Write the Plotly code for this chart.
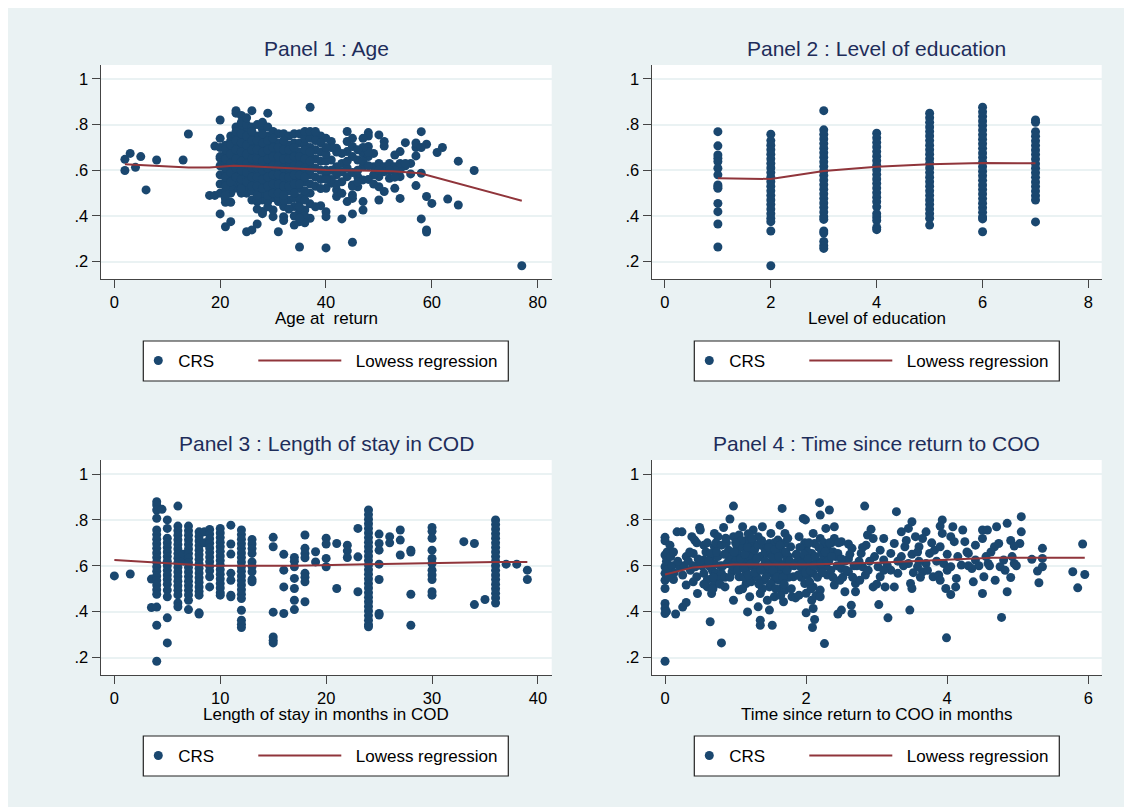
import plotly.graph_objects as go

# The page body adds an 8px margin, so the figure is 8px smaller and every
# pixel position below (measured on the 1132x807 window) is shifted by OFF.
OFF = 8
W, H = 1132 - OFF, 807 - OFF
BG = "#EAF2F3"
NAVY = "#1a476f"
MAROON = "#90353b"
TITLE_C = "#1e2d5a"
AXIS_C = "#444444"
FONT = "Liberation Sans, Arial, sans-serif"

panel_titles = ["Panel 1 : Age", "Panel 2 : Level of education",
                "Panel 3 : Length of stay in COD", "Panel 4 : Time since return to COO"]
x_titles = ["Age at  return", "Level of education",
            "Length of stay in months in COD", "Time since return to COO in months"]
x_tick_vals = [[0, 20, 40, 60, 80], [0, 2, 4, 6, 8], [0, 10, 20, 30, 40], [0, 2, 4, 6]]
y_tick_vals = [0.2, 0.4, 0.6, 0.8, 1.0]
y_tick_text = [".2", ".4", ".6", ".8", "1"]

# ---------------- Panel 1: age at return vs CRS ----------------
p1_points = [
    (2, .648), (2, .599), (3, .674), (4, .613), (5, .66), (6, .514), (8, .645), (13, .645), (14, .759),
    (18, .49), (19, .49), (19, .706), (20, .82), (20, .409), (20, .653), (21, .353), (22, .375),
    (25, .331), (26, .339), (27, .365), (28, .41), (28, .42), (31, .331), (35, .264), (40, .26), (45, .285),
    (37, .876), (23, .861), (23, .85), (26, .861), (29, .85), (24, .84),
    (44, .77), (48, .765), (50, .755), (58, .769), (59, .714), (62, .70), (61, .678), (65, .64), (68, .599),
    (63, .474), (65, .448), (60, .455), (59, .485), (58, .387), (59, .339), (59, .33), (77, .182),
    (57, .663), (57, .533), (56, .584), (55, .721), (54, .682), (53, .667), (54, .572), (54, .477), (53, .521),
    (51, .726), (51, .706), (50, .572), (50, .47), (50, .528), (51, .507), (47, .426), (47, .463),
    (45, .409), (43, .387), (40, .397), (40, .419), (37, .39), (37, .453), (35, .375), (34, .36), (32, .397),
    (30, .397), (30, .426), (39, .445), (58, .587), (57, .70), (57, .72), (58, .70), (56, .63), (55, .62), (54, .6),
    (41, .726), (42, .696), (44, .726), (44, .682), (45, .704), (43, .674), (41, .645), (42, .616), (43, .594),
    (44, .572), (45, .536), (42, .514), (41, .543), (40, .521), (42, .485), (43, .499), (46, .572), (46, .645),
    (47, .616), (47, .674), (48, .704), (48, .66), (49, .674), (49, .616), (47, .558), (46, .528), (45, .492),
    (45, .477), (44, .463), (50, .63), (51, .616), (52, .63), (53, .616), (54, .63), (55, .63), (53, .6),
    (52, .565), (51, .594), (41, .60), (42, .58), (43, .63), (44, .61), (45, .59), (46, .6), (47, .64),
    (48, .62), (49, .58), (48, .68), (47, .70), (46, .69), (45, .66), (44, .64), (43, .55), (42, .54),
    (41, .56), (40, .58), (39, .6), (45, .53), (46, .55), (48, .56), (49, .54), (50, .6), (52, .6), (53, .57),
    (48, .75), (47, .74), (45, .74), (42, .68), (41, .7), (40, .74), (39, .75), (38, .76),
    (37, .5), (36, .5), (35, .47), (34, .441), (35, .419), (36, .426), (33, .47), (32, .441), (31, .463),
    (29, .463), (28, .47), (27, .463), (26, .47), (25, .5), (24, .5), (23, .521), (22, .5), (21, .477),
    (20, .5), (33, .43), (34, .40), (36, .40), (38, .44), (29, .44), (27, .43), (22, .46), (21, .46),
    (32, .38), (36, .37), (35, .39),
    (20, .54), (20, .58), (20, .62), (20, .66), (20, .70), (20, .74),
    (21, .51), (21, .55), (21, .59), (21, .63), (21, .67), (21, .71),
    (22, .53), (22, .57), (22, .61), (22, .65), (22, .69), (22, .73), (22, .75),
    (23, .55), (23, .59), (23, .63), (23, .67), (23, .71), (23, .75), (23, .79),
    (24, .54), (24, .58), (24, .62), (24, .66), (24, .70), (24, .74), (24, .78), (24, .81),
    (25, .53), (25, .57), (25, .61), (25, .65), (25, .69), (25, .73), (25, .77), (25, .80), (25, .83),
    (26, .51), (26, .55), (26, .59), (26, .63), (26, .67), (26, .71), (26, .75), (26, .79),
    (27, .47), (27, .51), (27, .55), (27, .59), (27, .63), (27, .67), (27, .71), (27, .75), (27, .80),
    (28, .50), (28, .54), (28, .58), (28, .62), (28, .66), (28, .70), (28, .74), (28, .78), (28, .81),
    (29, .47), (29, .51), (29, .55), (29, .59), (29, .63), (29, .67), (29, .71), (29, .75), (29, .79),
    (30, .48), (30, .52), (30, .56), (30, .60), (30, .64), (30, .68), (30, .72), (30, .77),
    (31, .48), (31, .52), (31, .56), (31, .60), (31, .64), (31, .68), (31, .72), (31, .76),
    (32, .47), (32, .51), (32, .55), (32, .59), (32, .63), (32, .67), (32, .71), (32, .76),
    (33, .51), (33, .55), (33, .59), (33, .63), (33, .67), (33, .71), (33, .75),
    (34, .48), (34, .52), (34, .56), (34, .60), (34, .64), (34, .68), (34, .72), (34, .76),
    (35, .44), (35, .48), (35, .52), (35, .56), (35, .60), (35, .64), (35, .68), (35, .72), (35, .76),
    (36, .47), (36, .51), (36, .55), (36, .59), (36, .63), (36, .67), (36, .71), (36, .74), (36, .77),
    (37, .54), (37, .58), (37, .62), (37, .66), (37, .70), (37, .74), (37, .77),
    (38, .53), (38, .57), (38, .61), (38, .65), (38, .69), (38, .73), (38, .77),
    (39, .52), (39, .56), (39, .64), (39, .68), (39, .72),
    (40, .56), (40, .60), (40, .64), (40, .67), (40, .70),
    (21, .49), (21, .53), (21, .57), (21, .61), (21, .65), (21, .69),
    (22, .55), (22, .59), (22, .63), (22, .67), (22, .71),
    (23, .57), (23, .61), (23, .65), (23, .69), (23, .73), (23, .77),
    (24, .52), (24, .56), (24, .60), (24, .64), (24, .68), (24, .72), (24, .76),
    (25, .55), (25, .59), (25, .63), (25, .67), (25, .71), (25, .75),
    (26, .53), (26, .57), (26, .61), (26, .65), (26, .69), (26, .73), (26, .77),
    (27, .49), (27, .53), (27, .57), (27, .61), (27, .65), (27, .69), (27, .73),
    (28, .52), (28, .56), (28, .60), (28, .64), (28, .68), (28, .72), (28, .76),
    (29, .49), (29, .53), (29, .57), (29, .61), (29, .65), (29, .69), (29, .73),
    (30, .50), (30, .54), (30, .58), (30, .62), (30, .66), (30, .70), (30, .74),
    (31, .50), (31, .54), (31, .58), (31, .62), (31, .66), (31, .70),
    (32, .49), (32, .53), (32, .57), (32, .61), (32, .65), (32, .69), (32, .73),
    (33, .53), (33, .57), (33, .61), (33, .65), (33, .69),
    (34, .50), (34, .54), (34, .58), (34, .62), (34, .66), (34, .70),
    (35, .54), (35, .58), (35, .62), (35, .66),
    (36, .57), (36, .61), (36, .65), (36, .69),
    (37, .60), (37, .64), (37, .68),
]
p1_lowess_x = [2, 8, 14, 18, 22.5, 27.5, 34, 40, 46.4, 52.7, 57.8, 77]
p1_lowess_y = [.626, .62, .612, .612, .620, .616, .609, .601, .599, .596, .587, .467]

# ---------------- Panel 2: level of education vs CRS ----------------
edu1_crs = [.769, .707, .667, .653, .638, .609, .58, .536, .528, .521, .455, .419, .365, .264]
edu2_crs = [.758, .73, .71, .69, .67, .65, .63, .61, .59, .57, .55, .53, .51, .49, .47, .45, .43, .41,
            .39, .375, .334, .182]
edu3_crs = [.861, .777, .757, .737, .717, .697, .677, .657, .637, .617, .597, .577, .557, .537, .517,
            .497, .477, .457, .437, .417, .397, .385, .334, .325, .288, .27, .258]
edu4_crs = [.762, .742, .722, .702, .682, .662, .642, .622, .602, .582, .562, .542, .522, .502, .482,
            .462, .44, .41, .395, .38, .35, .34]
edu5_crs = [.85, .83, .81, .79, .77, .75, .73, .71, .69, .67, .65, .63, .61, .59, .57, .55, .53, .51,
            .49, .47, .45, .43, .41, .39, .36]
edu6_crs = [.876, .856, .836, .816, .796, .776, .756, .736, .716, .696, .676, .656, .636, .616, .596,
            .576, .556, .536, .516, .496, .476, .456, .436, .416, .396, .387, .331]
edu7_crs = [.82, .81, .769, .749, .729, .709, .689, .669, .649, .629, .609, .589, .569, .549, .529,
            .509, .489, .47, .374]
edu_levels = [1, 2, 3, 4, 5, 6, 7]
p2_lowess_y = [.565, .562, .597, .615, .626, .632, .631]

# ---------------- Panel 3: length of stay vs CRS ----------------
p3_points = [
    (0, .556), (1.5, .564), (3.5, .542), (3.5, .418),
    (4, .879), (4, .865), (4, .843), (4, .807), (4, .756), (4, .736), (4, .716), (4, .696), (4, .676),
    (4, .656), (4, .636), (4, .616), (4, .596), (4, .576), (4, .556), (4, .536), (4, .516), (4, .496),
    (4, .476), (4, .42), (4, .341), (4, .184), (4.5, .846),
    (5, .80), (5, .763), (5, .72), (5, .70), (5, .68), (5, .66), (5, .64), (5, .62), (5, .60), (5, .58),
    (5, .56), (5, .54), (5, .52), (5, .494), (5, .465), (5, .373), (5, .264),
    (6, .86), (6, .773), (6, .753), (6, .733), (6, .713), (6, .693), (6, .673), (6, .653), (6, .633),
    (6, .613), (6, .593), (6, .573), (6, .553), (6, .533), (6, .513), (6, .493), (6, .473), (6, .438), (6, .421),
    (6.5, .65), (6.5, .62),
    (7, .773), (7, .753), (7, .733), (7, .713), (7, .693), (7, .673), (7, .653), (7, .633), (7, .613),
    (7, .593), (7, .573), (7, .553), (7, .533), (7, .513), (7, .493), (7, .473), (7, .45), (7, .409),
    (8, .748), (8, .728), (8, .708), (8, .688), (8, .668), (8, .648), (8, .628), (8, .608), (8, .588),
    (8, .568), (8, .548), (8, .528), (8, .508), (8, .488), (8, .472), (8, .395), (8, .39),
    (8.5, .748), (8.5, .70),
    (9, .758), (9, .738), (9, .718), (9, .698), (9, .678), (9, .658), (9, .638), (9, .618), (9, .598),
    (9, .578), (9, .552), (9, .508),
    (10, .763), (10, .743), (10, .723), (10, .703), (10, .683), (10, .663), (10, .643), (10, .623),
    (10, .603), (10, .583), (10, .563), (10, .543), (10, .523), (10, .503), (10, .483), (10, .472),
    (11, .777), (11, .695), (11, .651), (11, .567), (11, .537), (11, .472), (11, .465),
    (12, .756), (12, .736), (12, .716), (12, .696), (12, .676), (12, .656), (12, .636), (12, .616),
    (12, .596), (12, .576), (12, .556), (12, .536), (12, .516), (12, .496), (12, .476), (12, .457),
    (12, .406), (12, .363), (12, .345), (12, .331),
    (13, .715), (13, .695), (13, .675), (13, .654), (13, .617), (13, .597), (13, .574), (13, .54), (13, .53),
    (15, .724), (15, .683), (15, .398), (15, .29), (15, .275), (15, .264),
    (16, .65), (16, .581), (16, .508), (16, .392),
    (17, .636), (17, .62), (17, .596), (17, .545), (17, .501), (17, .45), (17, .409),
    (18, .734), (18, .676), (18, .654), (18, .635), (18, .567), (18, .55), (18, .53), (18, .443),
    (19, .661), (19, .617), (20, .72), (20, .695), (20, .632), (20, .596), (21, .697), (21, .501),
    (22, .69), (22, .665), (22, .636), (23, .763), (23, .639), (23, .487),
    (24, .843), (24, .823), (24, .803), (24, .783), (24, .763), (24, .743), (24, .723), (24, .703),
    (24, .683), (24, .663), (24, .643), (24, .623), (24, .603), (24, .583), (24, .563), (24, .543),
    (24, .523), (24, .503), (24, .483), (24, .463), (24, .443), (24, .423), (24, .403), (24, .383),
    (24, .363), (24, .343), (24, .334),
    (25, .738), (25, .697), (25, .668), (25, .607), (25, .54), (25, .392), (25, .385),
    (26, .727), (26, .70), (27, .756), (27, .712), (27, .647), (28, .668), (28, .66), (28, .476), (28, .341),
    (30, .767), (30, .75), (30, .72), (30, .668), (30, .632), (30, .61), (30, .581), (30, .56), (30, .54),
    (30, .487), (30, .472),
    (33, .705), (34, .697), (34, .431), (35, .453),
    (36, .80), (36, .78), (36, .76), (36, .74), (36, .72), (36, .70), (36, .68), (36, .66), (36, .64),
    (36, .62), (36, .60), (36, .58), (36, .56), (36, .54), (36, .52), (36, .50), (36, .48), (36, .46), (36, .438),
    (37, .607), (38, .607), (39, .581), (39, .54),
]
p3_lowess_x = [0, 4, 9, 12.5, 17, 24, 30, 36, 39]
p3_lowess_y = [.625, .615, .600, .600, .600, .607, .613, .617, .617]

# ---------------- Panel 4: time since return vs CRS ----------------
p4_points = [
    (0, .724), (0, .709), (0, .647), (0, .596), (0, .567), (0, .537), (0, .501), (0, .436), (0, .414),
    (0, .392), (0, .184), (0.02, .40), (0.02, .58), (0.02, .62), (0.03, .66),
    (0.07, .69), (0.08, .64), (0.12, .54), (0.15, .39), (0.1, .60), (0.13, .57),
    (0.17, .748), (0.24, .748), (0.21, .596), (0.25, .42), (0.3, .44), (0.3, .516), (0.3, .64), (0.27, .6), (0.33, .62),
    (0.38, .727), (0.49, .767), (0.42, .712), (0.4, .654), (0.43, .596), (0.45, .552), (0.46, .479), (0.36, .58),
    (0.4, .53), (0.47, .63),
    (0.5, .756), (0.55, .69), (0.55, .625), (0.55, .567), (0.6, .508), (0.64, .356), (0.52, .60), (0.58, .66),
    (0.6, .54), (0.62, .6), (0.65, .64), (0.67, .58),
    (0.7, .741), (0.7, .683), (0.65, .654), (0.7, .61), (0.72, .567), (0.7, .523), (0.66, .479), (0.8, .264),
    (0.75, .727), (0.8, .567), (0.75, .64), (0.78, .6), (0.72, .7), (0.8, .69), (0.76, .54), (0.68, .5),
    (0.83, .767), (0.92, .804), (0.97, .86), (0.97, .727), (0.9, .668), (0.88, .61), (0.85, .508), (0.97, .45),
    (0.95, .574), (0.85, .55), (0.9, .62), (0.93, .64), (0.87, .7),
    (1.1, .77), (1.05, .734), (1.02, .683), (1.05, .64), (1.0, .596), (1.05, .552), (1.05, .494), (1.15, .71),
    (1.15, .66), (1.15, .617), (1.15, .574), (1.15, .523), (1.17, .399), (1.25, .756), (1.25, .697),
    (1.25, .654), (1.25, .596), (1.25, .552), (1.2, .465), (1.0, .62), (1.02, .66), (1.08, .6), (1.1, .68),
    (1.12, .55), (1.2, .6), (1.2, .64), (1.22, .53), (1.08, .71), (1.18, .74), (1.28, .62), (1.1, .5),
    (1.38, .77), (1.32, .727), (1.4, .683), (1.35, .64), (1.3, .596), (1.4, .537), (1.35, .479), (1.32, .421),
    (1.35, .363), (1.35, .341), (1.48, .407), (1.52, .341), (1.5, .741), (1.48, .697), (1.45, .654),
    (1.5, .61), (1.52, .567), (1.48, .508), (1.55, .465), (1.4, .6), (1.45, .57), (1.42, .66), (1.38, .5),
    (1.3, .55), (1.55, .63), (1.5, .66), (1.55, .54), (1.45, .45), (1.58, .6), (1.55, .7),
    (1.66, .85), (1.63, .777), (1.7, .741), (1.6, .712), (1.65, .668), (1.6, .625), (1.68, .581), (1.62, .537),
    (1.7, .494), (1.68, .443), (1.78, .683), (1.75, .64), (1.75, .596), (1.82, .552), (1.8, .465), (1.85, .46),
    (1.6, .57), (1.65, .5), (1.72, .62), (1.7, .7), (1.64, .47), (1.62, .6), (1.75, .55), (1.68, .65), (1.6, .67),
    (1.96, .806), (1.99, .8), (1.9, .727), (2.0, .683), (1.95, .64), (1.92, .596), (2.02, .56), (1.98, .523),
    (1.9, .472), (2.0, .395), (2.1, .414), (2.12, .366), (2.09, .331), (2.1, .741), (2.12, .697), (2.08, .654),
    (2.05, .61), (2.1, .567), (2.1, .508), (2.08, .45), (1.95, .57), (2.0, .6), (2.02, .66), (1.98, .7),
    (1.93, .55), (2.05, .53), (2.0, .48), (2.15, .62), (2.14, .47), (1.88, .62),
    (2.19, .875), (2.2, .821), (2.33, .843), (2.28, .763), (2.2, .719), (2.3, .683), (2.25, .64), (2.2, .588),
    (2.3, .56), (2.2, .494), (2.26, .261), (2.4, .77), (2.4, .719), (2.38, .661), (2.4, .516), (2.2, .465),
    (2.25, .7), (2.32, .62), (2.35, .58), (2.28, .6), (2.36, .7), (2.42, .64), (2.22, .66),
    (2.5, .705), (2.45, .654), (2.5, .588), (2.48, .537), (2.55, .487), (2.5, .407), (2.45, .39), (2.6, .695),
    (2.65, .676), (2.6, .574), (2.64, .428), (2.65, .392), (2.7, .523), (2.7, .487), (2.55, .62), (2.6, .63),
    (2.52, .55), (2.68, .6),
    (2.83, .86), (2.92, .759), (2.87, .734), (2.85, .69), (2.78, .654), (2.8, .596), (2.84, .56), (2.76, .537),
    (2.95, .508), (2.95, .719), (2.97, .64), (2.9, .62), (2.75, .62),
    (3.28, .836), (3.1, .719), (3.05, .668), (3.1, .625), (3.02, .596), (3.05, .552), (3.12, .508), (3.03, .431),
    (3.16, .373), (3.25, .697), (3.2, .654), (3.2, .581), (3.25, .508), (3.15, .6), (3.0, .52),
    (3.5, .792), (3.35, .748), (3.45, .763), (3.55, .727), (3.4, .683), (3.35, .64), (3.45, .61), (3.3, .567),
    (3.48, .523), (3.5, .501), (3.47, .407), (3.38, .6), (3.5, .65), (3.52, .57), (3.42, .71),
    (3.7, .748), (3.65, .719), (3.6, .683), (3.75, .654), (3.7, .61), (3.65, .574), (3.8, .552), (3.58, .596),
    (3.82, .668), (3.72, .58), (3.6, .62), (3.78, .7),
    (3.93, .8), (3.9, .773), (3.93, .741), (3.9, .683), (3.95, .61), (3.88, .56), (3.9, .537), (3.98, .501),
    (4.05, .475), (3.99, .286), (4.05, .727), (4.08, .77), (4.1, .705), (4.05, .596), (4.13, .545),
    (4.12, .508), (4.0, .65),
    (4.22, .756), (4.25, .705), (4.3, .654), (4.2, .603), (4.35, .588), (4.37, .53), (4.4, .625), (4.28, .66), (4.45, .6),
    (4.5, .756), (4.5, .719), (4.57, .756), (4.55, .64), (4.58, .61), (4.52, .552), (4.5, .479), (4.7, .77),
    (4.67, .683), (4.68, .537), (4.6, .6),
    (4.85, .785), (4.73, .697), (4.8, .625), (4.75, .596), (4.85, .487), (4.77, .375), (4.9, .549), (4.9, .71),
    (5.05, .814), (5.05, .748), (5.03, .697), (4.95, .61), (4.95, .686), (4.98, .6),
    (5.2, .628), (5.28, .577), (5.3, .526), (5.35, .676), (5.35, .596), (5.35, .632),
    (5.78, .574), (5.85, .504), (5.92, .695), (5.95, .562),
    (0.92, .55), (0.95, .6), (0.98, .66), (1.0, .7), (1.03, .58), (1.07, .63), (1.12, .59), (1.13, .65),
    (1.17, .68), (1.18, .56), (1.22, .61), (1.23, .72), (1.27, .57), (1.27, .67), (1.3, .63), (1.32, .69),
    (1.33, .52), (1.36, .58), (1.37, .71), (1.42, .62), (1.43, .55), (1.46, .6), (1.47, .68), (1.5, .52),
    (1.52, .64), (1.53, .58), (1.56, .67), (1.57, .5), (1.59, .55), (1.61, .64), (1.63, .69), (1.66, .6),
    (1.67, .55), (1.69, .52), (1.71, .66), (1.73, .58), (1.74, .72), (1.77, .62), (1.79, .5), (1.83, .6),
    (1.86, .65), (1.89, .56), (1.91, .68), (1.94, .61), (1.97, .65), (1.99, .57), (2.03, .63), (2.04, .7),
    (2.06, .58), (2.07, .5), (2.11, .6), (2.13, .64), (2.16, .55), (2.18, .68), (2.21, .61), (2.23, .57),
    (2.27, .66), (2.3, .62), (2.33, .7), (2.36, .64), (2.38, .55), (2.44, .6), (2.46, .7), (2.5, .63),
    (2.57, .58), (2.62, .65), (2.66, .55), (2.72, .6), (2.8, .68), (2.88, .58), (0.6, .7), (0.62, .62),
    (0.68, .55), (0.73, .66), (0.78, .52), (0.82, .6), (0.84, .65), (0.86, .72), (0.4, .6), (0.35, .66),
    (0.25, .56), (0.18, .62), (0.12, .66), (0.05, .55), (0.45, .7), (0.5, .62), (0.55, .52), (3.1, .58),
    (3.3, .62), (3.58, .66), (3.62, .55), (3.85, .62), (4.0, .58), (4.15, .64), (4.3, .6), (4.4, .69),
    (4.62, .66), (4.82, .58), (4.92, .64),
]
p4_lowess_x = [0, 0.4, 0.97, 2.0, 3.0, 3.94, 4.65, 5.95]
p4_lowess_y = [.562, .593, .606, .606, .613, .627, .635, .635]

# ---------------- assemble ----------------
p2_x, p2_y = [], []
for lvl, col in zip(edu_levels, [edu1_crs, edu2_crs, edu3_crs, edu4_crs, edu5_crs, edu6_crs, edu7_crs]):
    p2_x += [lvl] * len(col)
    p2_y += col

scatter_data = [
    ([p[0] for p in p1_points], [p[1] for p in p1_points]),
    (p2_x, p2_y),
    ([p[0] for p in p3_points], [p[1] for p in p3_points]),
    ([p[0] for p in p4_points], [p[1] for p in p4_points]),
]
lowess_data = [(p1_lowess_x, p1_lowess_y), (edu_levels, p2_lowess_y),
               (p3_lowess_x, p3_lowess_y), (p4_lowess_x, p4_lowess_y)]

# pixel geometry (window coords) of the four plot areas: (left, right, top, bottom)
boxes = [(100.7, 551.7, 65, 279), (651.7, 1101.7, 65, 279),
         (100.7, 551.7, 460, 675), (651.7, 1101.7, 460, 675)]
x_ranges = [(-2.57, 82.65), (-0.25, 8.25), (-1.29, 41.3), (-0.189, 6.19)]
y_range = (0.124, 1.061)
legend_boxes = [(143.3, 341), (694.3, 341), (143.3, 736), (694.3, 736)]  # left, top ; size 365x40


def px(x):
    return (x - OFF) / W


def py(y):
    return 1 - (y - OFF) / H


fig = go.Figure()
annotations = []
shapes = []
layout = {}

for i in range(4):
    n = i + 1
    xa = "x" if n == 1 else f"x{n}"
    ya = "y" if n == 1 else f"y{n}"
    l, r, t, b = boxes[i]
    lg1 = "legend" if n == 1 else f"legend{2 * n - 1}"
    lg2 = f"legend{2 * n}"
    sx, sy = scatter_data[i]
    fig.add_trace(go.Scatter(
        x=sx, y=sy, mode="markers", name="CRS", xaxis=xa, yaxis=ya, legend=lg1,
        marker=dict(color=NAVY, size=9, line=dict(width=0)), showlegend=True))
    lx, ly = lowess_data[i]
    fig.add_trace(go.Scatter(
        x=lx, y=ly, mode="lines", name="\u00a0\u00a0Lowess regression", xaxis=xa, yaxis=ya, legend=lg2,
        line=dict(color=MAROON, width=2), showlegend=True))

    layout["xaxis" if n == 1 else f"xaxis{n}"] = dict(
        domain=[px(l), px(r)], range=list(x_ranges[i]), anchor=ya,
        showgrid=False, zeroline=False, showline=True, linecolor=AXIS_C, linewidth=1.3,
        ticks="outside", ticklen=8, tickwidth=1.3, tickcolor=AXIS_C,
        tickvals=x_tick_vals[i], ticktext=[str(v) for v in x_tick_vals[i]],
        tickfont=dict(family=FONT, size=16.5, color="black"), fixedrange=True)
    layout["yaxis" if n == 1 else f"yaxis{n}"] = dict(
        domain=[py(b), py(t)], range=list(y_range), anchor=xa,
        showgrid=True, gridcolor=BG, gridwidth=1.5, zeroline=False,
        showline=True, linecolor=AXIS_C, linewidth=1.3,
        ticks="outside", ticklen=8, tickwidth=1.3, tickcolor=AXIS_C,
        tickvals=y_tick_vals, ticktext=y_tick_text,
        tickfont=dict(family=FONT, size=16.5, color="black"), fixedrange=True)

    cx = (l + r) / 2
    annotations.append(dict(text=panel_titles[i], xref="paper", yref="paper",
                            x=px(cx), y=py(t - 17), xanchor="center", yanchor="middle",
                            showarrow=False, font=dict(family=FONT, size=21, color=TITLE_C)))
    annotations.append(dict(text=x_titles[i], xref="paper", yref="paper",
                            x=px(cx), y=py(b + 39), xanchor="center", yanchor="middle",
                            showarrow=False, font=dict(family=FONT, size=17, color="black")))

    bl, bt = legend_boxes[i]
    shapes.append(dict(type="rect", xref="paper", yref="paper",
                       x0=px(bl), x1=px(bl + 365), y0=py(bt + 40), y1=py(bt),
                       fillcolor="white", line=dict(color="#222222", width=1.2), layer="above"))
    cy = py(bt + 20)
    layout[lg1] = dict(x=px(bl - 5), y=cy, xanchor="left", yanchor="middle",
                       bgcolor="rgba(0,0,0,0)", borderwidth=0, itemwidth=30,
                       font=dict(family=FONT, size=17, color="black"))
    layout[lg2] = dict(x=px(bl + 110), y=cy, xanchor="left", yanchor="middle",
                       bgcolor="rgba(0,0,0,0)", borderwidth=0, itemwidth=83,
                       font=dict(family=FONT, size=17, color="black"))

fig.update_layout(
    width=W, height=H, margin=dict(l=0, r=0, t=0, b=0),
    paper_bgcolor=BG, plot_bgcolor="white",
    font=dict(family=FONT, size=16, color="black"),
    annotations=annotations, shapes=shapes, **layout)

fig.write_html("out.html")
